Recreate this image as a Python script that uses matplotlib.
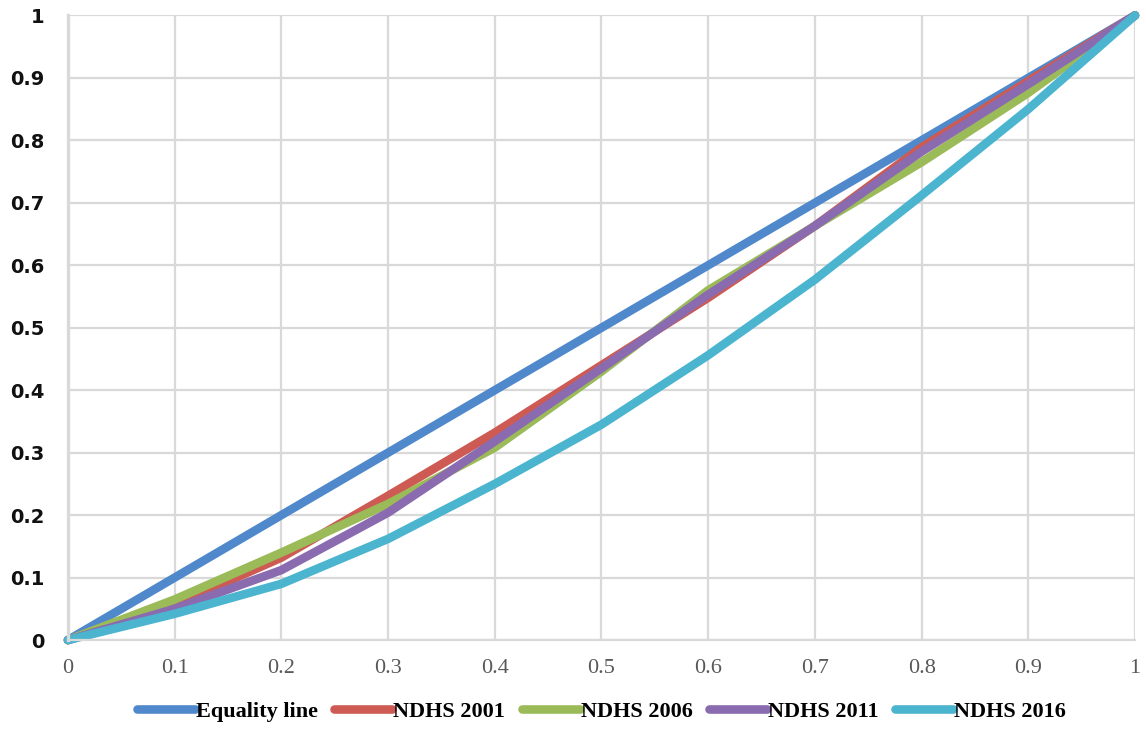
"""Concentration curves by survey round, with the equality line."""

import matplotlib

matplotlib.use("Agg")
import matplotlib.pyplot as plt  # noqa: E402
import matplotlib.ticker as ticker  # noqa: E402

# cumulative share of population (x) and of the outcome (y)
POP_SHARE = [0.0, 0.1, 0.2, 0.3, 0.4, 0.5, 0.6, 0.7, 0.8, 0.9, 1.0]
EQUALITY = [0.0, 0.1, 0.2, 0.3, 0.4, 0.5, 0.6, 0.7, 0.8, 0.9, 1.0]
NDHS_2001 = [0.0, 0.056, 0.132, 0.231, 0.332, 0.440, 0.548, 0.663, 0.789, 0.895, 1.0]
NDHS_2006 = [0.0, 0.065, 0.140, 0.218, 0.308, 0.430, 0.560, 0.663, 0.765, 0.876, 1.0]
NDHS_2011 = [0.0, 0.050, 0.112, 0.204, 0.318, 0.435, 0.553, 0.663, 0.782, 0.890, 1.0]
NDHS_2016 = [0.0, 0.042, 0.090, 0.162, 0.250, 0.345, 0.456, 0.577, 0.712, 0.850, 1.0]

SERIES = [
    ("Equality line", EQUALITY, "#5089cb"),
    ("NDHS 2001", NDHS_2001, "#cd5b54"),
    ("NDHS 2006", NDHS_2006, "#9bbb59"),
    ("NDHS 2011", NDHS_2011, "#8a6bb0"),
    ("NDHS 2016", NDHS_2016, "#4bb4cf"),
]

GRID = "#d9d9d9"

fig = plt.figure(figsize=(11.46, 7.53), dpi=100)
ax = fig.add_axes([0.0593, 0.150, 0.9311, 0.8295])

for label, values, color in SERIES:
    ax.plot(POP_SHARE, values, color=color, linewidth=6.2, label=label,
            solid_capstyle="round", solid_joinstyle="round", clip_on=False)

ax.set_xlim(0, 1)
ax.set_ylim(0, 1)
ax.xaxis.set_major_locator(ticker.MultipleLocator(0.1))
ax.yaxis.set_major_locator(ticker.MultipleLocator(0.1))
fmt = ticker.FuncFormatter(lambda v, _: f"{v:.0f}" if round(v, 6) in (0, 1) else f"{v:.1f}")
ax.xaxis.set_major_formatter(fmt)
ax.yaxis.set_major_formatter(fmt)

ax.grid(True, color=GRID, linewidth=1.6)
ax.set_axisbelow(True)
for side in ("top", "right"):
    ax.spines[side].set_visible(False)
ax.spines["left"].set_color(GRID)
ax.spines["left"].set_linewidth(2.4)
ax.spines["bottom"].set_color(GRID)
ax.spines["bottom"].set_linewidth(1.6)
ax.tick_params(length=0)
ax.tick_params(axis="y", pad=17)
ax.tick_params(axis="x", pad=14)

for t in ax.get_yticklabels():
    t.set_fontfamily("DejaVu Sans")
    t.set_fontweight("bold")
    t.set_fontsize(14)
    t.set_color("#111111")
for t in ax.get_xticklabels():
    t.set_fontfamily("Liberation Serif")
    t.set_fontsize(16)
    t.set_color("#595959")

leg = ax.legend(
    loc="center", bbox_to_anchor=(0.5, -0.115), ncol=5, frameon=False,
    handlelength=2.6, handletextpad=0.05, columnspacing=0.75,
    prop={"family": "Liberation Serif", "weight": "bold", "size": 16},
)

fig.savefig("out.png", dpi=100, facecolor="white")
